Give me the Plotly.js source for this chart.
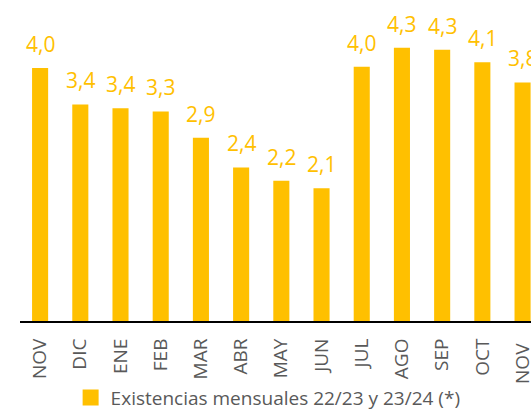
<!DOCTYPE html>
<html>
<head>
<meta charset="utf-8">
<script src="https://cdn.plot.ly/plotly-3.0.1.min.js"></script>
<style>html,body{margin:0;padding:0;background:#fff;}#chart{width:531px;height:410px;}</style>
</head>
<body>
<div id="chart"></div>
<script>
const months = ["NOV", "DIC", "ENE", "FEB", "MAR", "ABR", "MAY", "JUN", "JUL", "AGO", "SEP", "OCT", "NOV "];
const stocks = [4.02, 3.44, 3.38, 3.33, 2.91, 2.44, 2.23, 2.11, 4.04, 4.34, 4.31, 4.11, 3.79];
const seriesName = "Existencias mensuales 22/23 y 23/24 (*)";

const gold = "#FFC000";
const xs = months.map((m, i) => i);
const fmt = v => v.toFixed(1).replace(".", ",");

const bars = {
  type: "bar",
  x: xs,
  y: stocks,
  width: 0.4,
  marker: {color: gold},
  showlegend: false,
  hoverinfo: "skip"
};
const legendItem = {
  type: "scatter",
  mode: "markers",
  x: [null],
  y: [null],
  name: seriesName,
  marker: {symbol: "square", size: 17, color: gold},
  showlegend: true
};

const annotations = stocks.map((v, i) => ({
  x: i, y: v, xref: "x", yref: "y",
  text: fmt(v), showarrow: false,
  yanchor: "bottom", yshift: 8,
  font: {family: "Open Sans", size: 21, color: gold}
}));

const layout = {
  width: 531, height: 410,
  margin: {l: 20, r: 0, t: 0, b: 89},
  paper_bgcolor: "#fff", plot_bgcolor: "#fff",
  font: {family: "Open Sans", color: "#595959"},
  bargap: 0.6,
  xaxis: {
    range: [-0.5, 12.21],
    tickvals: xs,
    ticktext: months,
    tickangle: -90,
    tickfont: {family: "Open Sans", size: 19, color: "#595959"},
    showline: true, linecolor: "#000", linewidth: 2,
    showgrid: false, zeroline: false,
    ticks: "", ticklabelstandoff: 8,
    ticklabeloverflow: "allow",
    fixedrange: true
  },
  yaxis: {
    range: [0, 5.1],
    visible: false,
    showgrid: false, zeroline: false,
    fixedrange: true
  },
  showlegend: true,
  legend: {
    orientation: "h",
    xref: "container", yref: "container",
    x: 0.133, xanchor: "left",
    y: 0.03, yanchor: "middle",
    font: {family: "Open Sans", size: 19, color: "#595959"},
    bgcolor: "rgba(0,0,0,0)"
  },
  annotations: annotations
};

Plotly.newPlot("chart", [bars, legendItem], layout, {displayModeBar: false, staticPlot: true});
</script>
</body>
</html>
